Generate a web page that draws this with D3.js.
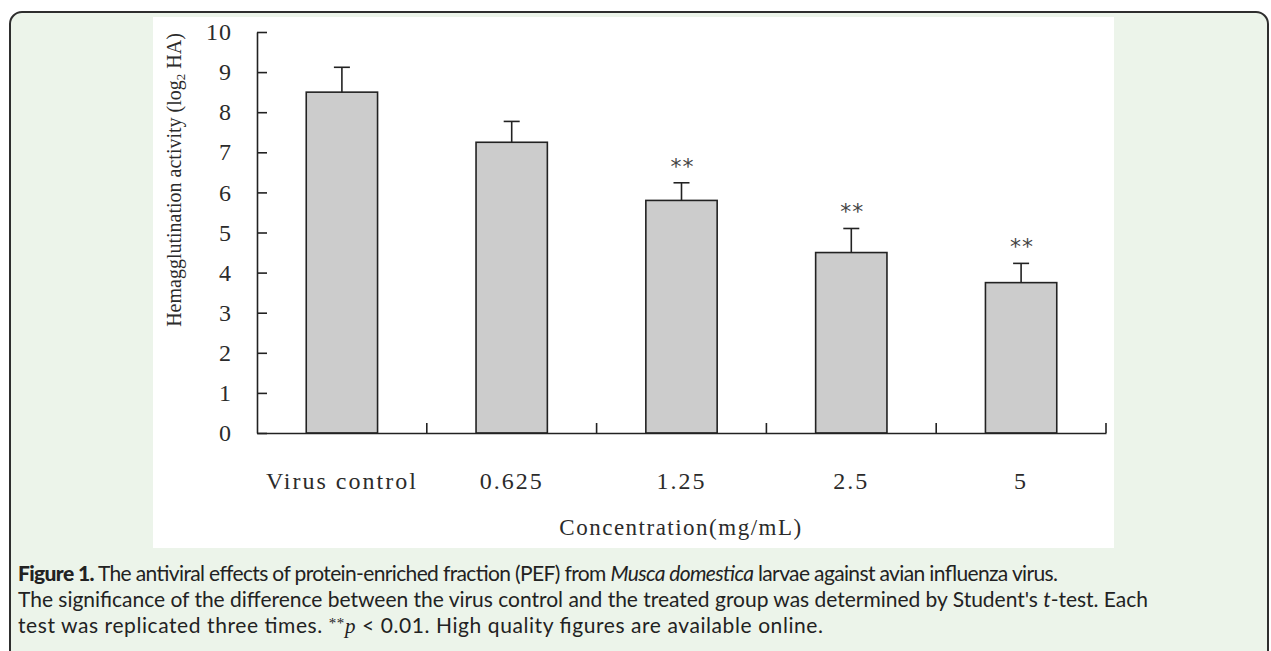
<!DOCTYPE html>
<html>
<head>
<meta charset="utf-8">
<script src="https://cdn.jsdelivr.net/npm/d3@7"></script>
<style>
  html, body { margin: 0; padding: 0; background: #ffffff; }
  svg { display: block; }
</style>
</head>
<body>
<svg id="chart" width="1271" height="651"></svg>
<script>
// ---- data ----
const categories = ["Virus control", "0.625", "1.25", "2.5", "5"];
const values = [8.5, 7.25, 5.8, 4.5, 3.75];
const errors = [0.62, 0.52, 0.44, 0.6, 0.48];
const significance = ["", "", "**", "**", "**"];
const yTicks = [0, 1, 2, 3, 4, 5, 6, 7, 8, 9, 10];
const yLabel = "Hemagglutination activity (log";
const xLabel = "Concentration(mg/mL)";

const svg = d3.select("#chart");
const serif = "'Liberation Serif', 'Times New Roman', serif";
const textCol = "#2b2b2b";

// outer caption box
svg.append("rect")
  .attr("x", 10).attr("y", 12).attr("width", 1258).attr("height", 680)
  .attr("rx", 12).attr("ry", 12)
  .attr("fill", "#ecf4ea").attr("stroke", "#2e2e2e").attr("stroke-width", 2);

// white figure area
svg.append("rect")
  .attr("x", 153).attr("y", 17).attr("width", 961).attr("height", 531)
  .attr("fill", "#ffffff");

// scales
const y = d3.scaleLinear().domain([0, 10]).range([433, 32]);
const x = d3.scaleBand().domain(categories).range([257, 1106])
  .paddingInner(0.58).paddingOuter(0.29);

// y axis (ticks inward)
const yAxis = svg.append("g")
  .attr("transform", "translate(257,0)")
  .call(d3.axisLeft(y).tickValues(yTicks).tickFormat(d3.format("d"))
    .tickSizeInner(-10).tickSizeOuter(0).tickPadding(25));
yAxis.select(".domain").attr("stroke", "#222").attr("stroke-width", 1.6);
yAxis.selectAll(".tick line").attr("stroke", "#222").attr("stroke-width", 1.6);
yAxis.selectAll(".tick text")
  .attr("font-family", serif).attr("font-size", 24).attr("fill", textCol)
  .attr("letter-spacing", "1px");

// bars
svg.append("g").selectAll("rect")
  .data(categories)
  .join("rect")
  .attr("x", d => x(d))
  .attr("y", (d, i) => y(values[i]))
  .attr("width", x.bandwidth())
  .attr("height", (d, i) => y(0) - y(values[i]))
  .attr("fill", "#cccccc")
  .attr("stroke", "#222")
  .attr("stroke-width", 1.6);

// error bars
const eb = svg.append("g").attr("stroke", "#222").attr("stroke-width", 1.6);
categories.forEach((c, i) => {
  const cx = x(c) + x.bandwidth() / 2;
  eb.append("line").attr("x1", cx).attr("x2", cx)
    .attr("y1", y(values[i])).attr("y2", y(values[i] + errors[i]));
  eb.append("line").attr("x1", cx - 8).attr("x2", cx + 8)
    .attr("y1", y(values[i] + errors[i])).attr("y2", y(values[i] + errors[i]));
});

// significance marks
svg.append("g").selectAll("text")
  .data(categories)
  .join("text")
  .attr("x", d => x(d) + x.bandwidth() / 2 + 1)
  .attr("y", (d, i) => y(values[i] + errors[i]) - 9)
  .attr("text-anchor", "middle")
  .attr("font-family", "'DejaVu Sans', sans-serif").attr("font-size", 22)
  .attr("letter-spacing", "1px")
  .attr("fill", "#444")
  .text((d, i) => significance[i]);

// x axis: baseline + ticks at band boundaries
const xAxis = svg.append("g").attr("transform", "translate(0,433)")
  .call(d3.axisBottom(x).tickSize(0).tickPadding(0));
xAxis.select(".domain").attr("stroke", "#222").attr("stroke-width", 1.6);
xAxis.selectAll(".tick text")
  .attr("y", 56).attr("dy", 0)
  .attr("font-family", serif).attr("font-size", 24).attr("fill", textCol)
  .attr("letter-spacing", "2px");
const gap = (x.step() - x.bandwidth()) / 2;
svg.append("g").selectAll("line")
  .data(categories)
  .join("line")
  .attr("x1", d => x(d) + x.bandwidth() + gap)
  .attr("x2", d => x(d) + x.bandwidth() + gap)
  .attr("y1", 433).attr("y2", 423)
  .attr("stroke", "#222").attr("stroke-width", 1.6);

// axis titles
svg.append("text")
  .attr("x", 681).attr("y", 535)
  .attr("text-anchor", "middle")
  .attr("font-family", serif).attr("font-size", 23).attr("fill", textCol)
  .attr("letter-spacing", "1.5px")
  .text(xLabel);

const yt = svg.append("text")
  .attr("transform", "translate(181,180) rotate(-90)")
  .attr("text-anchor", "middle")
  .attr("font-family", serif).attr("font-size", 20).attr("fill", textCol);
yt.append("tspan").text(yLabel);
yt.append("tspan").attr("font-size", 13).attr("dy", 4).text("2");
yt.append("tspan").attr("dy", -4).text(" HA)");

// caption
const cap = svg.append("g")
  .attr("font-family", "Lato, 'Open Sans', sans-serif")
  .attr("font-size", 21).attr("fill", "#222");
const l1 = cap.append("text").attr("x", 18).attr("y", 581)
  .attr("textLength", 1040).attr("lengthAdjust", "spacing");
l1.append("tspan").attr("font-weight", 900).text("Figure 1.");
l1.append("tspan").text(" The antiviral effects of protein-enriched fraction (PEF) from ");
l1.append("tspan").attr("font-style", "italic").text("Musca domestica");
l1.append("tspan").text(" larvae against avian influenza virus.");

const l2 = cap.append("text").attr("x", 18).attr("y", 607)
  .attr("textLength", 1130).attr("lengthAdjust", "spacing");
l2.append("tspan").text("The significance of the difference between the virus control and the treated group was determined by Student's ");
l2.append("tspan").attr("font-style", "italic").text("t");
l2.append("tspan").text("-test. Each");

const l3 = cap.append("text").attr("x", 18).attr("y", 633)
  .attr("textLength", 805).attr("lengthAdjust", "spacing");
l3.append("tspan").text("test was replicated three times. ");
l3.append("tspan").attr("font-family", serif).attr("font-size", 15).attr("dy", -5).text("**");
l3.append("tspan").attr("font-style", "italic").attr("font-family", serif).attr("dy", 5).text("p");
l3.append("tspan").text(" < 0.01. High quality figures are available online.");
</script>
</body>
</html>
